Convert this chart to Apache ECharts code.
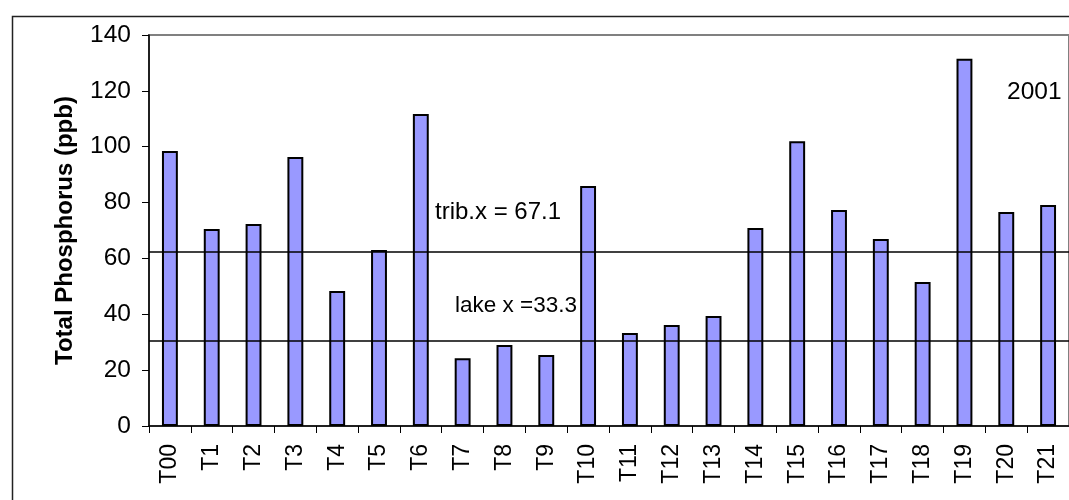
<!DOCTYPE html>
<html>
<head>
<meta charset="utf-8">
<script src="https://cdn.jsdelivr.net/npm/echarts@6/dist/echarts.min.js"></script>
<style>
html,body{margin:0;padding:0;background:#fff;}
#chart{width:1069px;height:500px;}
</style>
</head>
<body>
<div id="chart"></div>
<script>
const categories = ['T00','T1','T2','T3','T4','T5','T6','T7','T8','T9','T10','T11','T12','T13','T14','T15','T16','T17','T18','T19','T20','T21'];
const phosphorus = [98.5,70.5,72.3,96.3,48.3,63,111.7,24.3,29,25.4,85.9,33.3,36.2,39.4,70.9,102,77.3,67,51.6,131.5,76.6,79.1];
const refLines = [62.4, 30.6];
const yTicks = {min:0, max:140, interval:20};
const annotations = ['trib.x = 67.1', 'lake x =33.3', '2001'];

const FONT = "'Liberation Sans', Arial, sans-serif";
const chart = echarts.init(document.getElementById('chart'), null, {renderer:'canvas'});
chart.setOption({
  animation:false,
  backgroundColor:'#fff',
  textStyle:{fontFamily:FONT},
  grid:{left:149, top:35, width:931.7, height:391, show:true, borderColor:'#808080', borderWidth:2, backgroundColor:'transparent'},
  xAxis:{
    type:'category', data:categories,
    axisLine:{lineStyle:{color:'#000', width:1.5}},
    axisTick:{show:true, length:7, lineStyle:{color:'#000', width:1}},
    axisLabel:{rotate:90, fontSize:23, color:'#000', margin:18, fontFamily:FONT}
  },
  yAxis:{
    type:'value', min:yTicks.min, max:yTicks.max, interval:yTicks.interval,
    name:'Total Phosphorus (ppb)', nameLocation:'middle', nameGap:72,
    nameTextStyle:{fontSize:24, fontWeight:'bold', color:'#000', fontFamily:FONT},
    axisLine:{show:true, lineStyle:{color:'#000', width:1.5}},
    axisTick:{show:true, length:7, lineStyle:{color:'#000', width:1}},
    axisLabel:{fontSize:24.5, color:'#000', margin:18, fontFamily:FONT},
    splitLine:{show:false}
  },
  series:[{
    type:'bar', data:phosphorus, barWidth:'38%',
    itemStyle:{color:'#9999FF', borderColor:'#000', borderWidth:2},
    markLine:{
      silent:true, symbol:['none','none'],
      label:{show:false},
      lineStyle:{color:'#000', width:1.5, type:'solid'},
      data:refLines.map(v=>({yAxis:v}))
    }
  }],
  graphic:[
    {type:'rect', left:10, top:14, shape:{width:1200, height:700}, style:{fill:'none', stroke:'#222', lineWidth:1.5}, z:100},
    {type:'text', left:435, top:200, style:{text:annotations[0], fontSize:24, fill:'#000', fontFamily:FONT}, z:100},
    {type:'text', left:455, top:294, style:{text:annotations[1], fontSize:22.5, fill:'#000', fontFamily:FONT}, z:100},
    {type:'text', left:1007, top:80, style:{text:annotations[2], fontSize:24.5, fill:'#000', fontFamily:FONT}, z:100}
  ]
});
</script>
</body>
</html>
